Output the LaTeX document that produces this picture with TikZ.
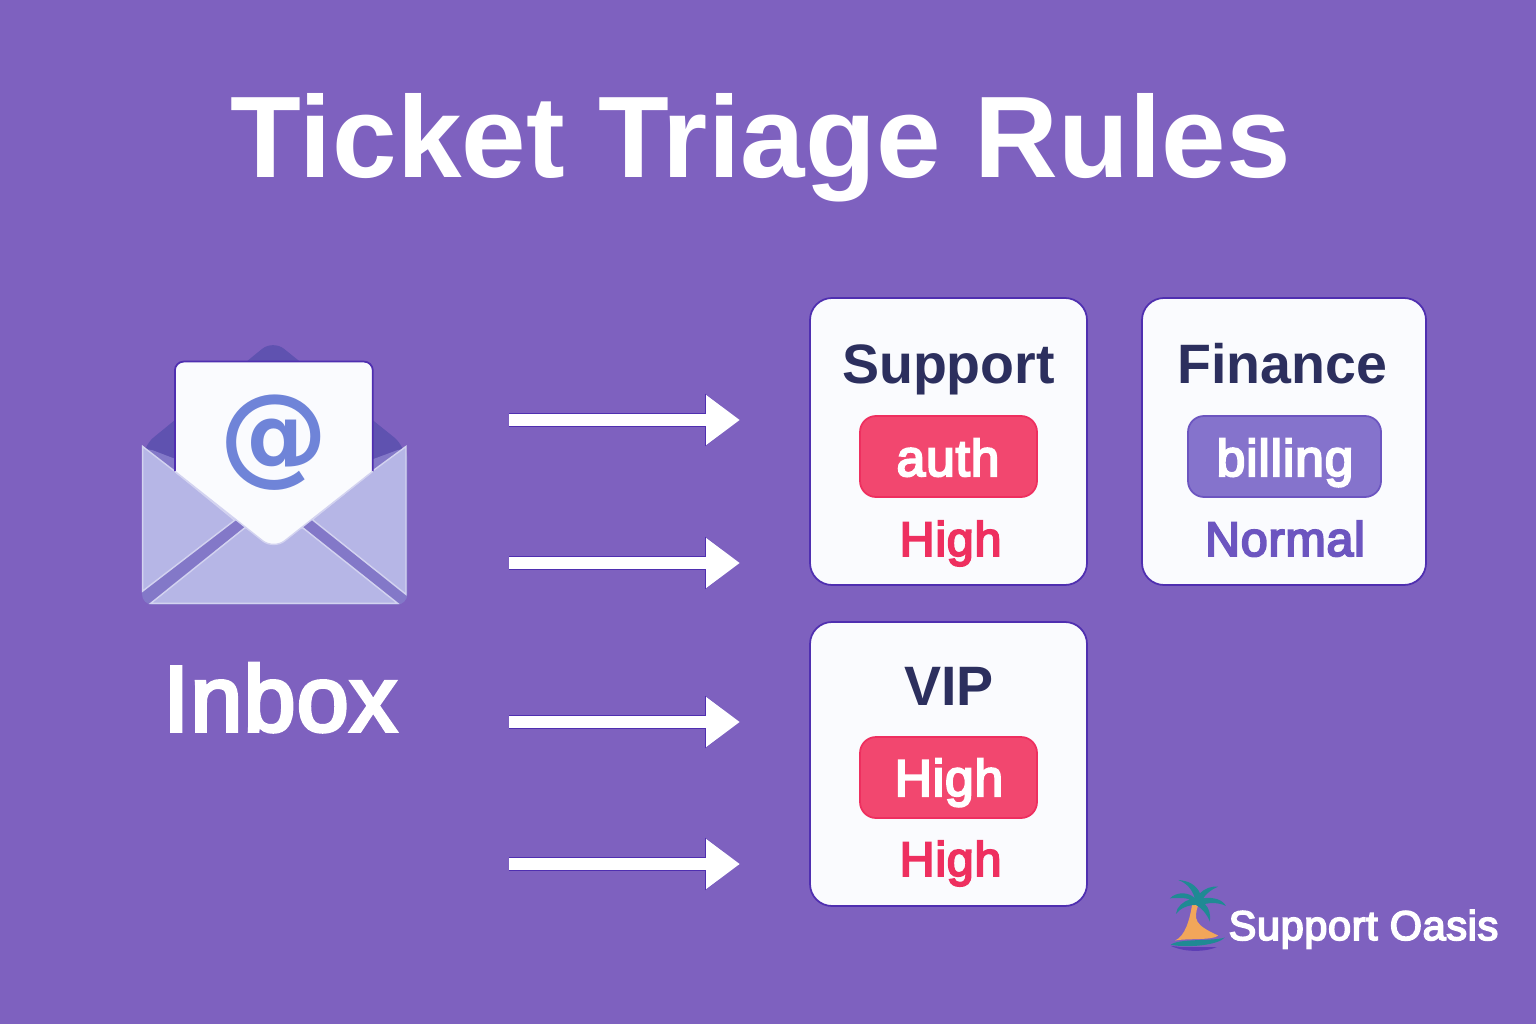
\documentclass[tikz,border=0pt]{standalone}
\usepackage{fontspec}
\usetikzlibrary{arrows.meta}
\setmainfont{Liberation Sans}
\newfontfamily\mediumfont[FakeBold=4,LetterSpace=1.5]{Liberation Sans}
\newfontfamily\titlefont[LetterSpace=0.3]{Liberation Sans Bold}
\newfontfamily\atfont{DejaVu Sans}
\definecolor{bgpurple}{HTML}{7E61BF}
\definecolor{edgepurple}{HTML}{4F2FB0}
\definecolor{navytext}{HTML}{2C2F5E}
\definecolor{cardwhite}{HTML}{FAFBFE}
\definecolor{hotred}{HTML}{F2476F}
\definecolor{hottext}{HTML}{EE2F5F}
\definecolor{billfill}{HTML}{8573CC}
\definecolor{normaltext}{HTML}{6C55C0}
\definecolor{envlight}{HTML}{B6B6E6}
\definecolor{envband}{HTML}{8378C8}
\definecolor{envdark}{HTML}{5F52B0}
\definecolor{atblue}{HTML}{6F84D8}
\definecolor{palmteal}{HTML}{1F8A94}
\definecolor{sandorange}{HTML}{F2A65A}
\tikzstyle{card}=[rectangle,rounded corners=22pt*0.285,draw=edgepurple,line width=0.5pt,fill=cardwhite,inner sep=0pt]
\tikzstyle{pill}=[rectangle,rounded corners=16pt*0.285,line width=0.5pt,inner sep=0pt]
\tikzstyle{heading}=[anchor=base,text=navytext,font=\bfseries\fontsize{15.8}{18}\selectfont]
\tikzstyle{pilltext}=[anchor=base,text=white,font=\mediumfont\fontsize{14.7}{18}\selectfont]
\tikzstyle{level}=[anchor=base,font=\mediumfont\fontsize{13.8}{18}\selectfont]
\tikzstyle{flowedge}=[line width=0.12cm,white,-{Triangle[length=0.34cm,width=0.48cm]},preaction={draw=edgepurple,line width=0.135cm,-{Triangle[length=0.35cm,width=0.5cm]}}]
\begin{document}
\begin{tikzpicture}
    \useasboundingbox (0,0) rectangle (15.36,10.24);
    \fill[bgpurple] (0,0) rectangle (15.36,10.24);

    \node[anchor=base,text=white,font=\titlefont\fontsize{33}{38}\selectfont] (title) at (7.61,8.46) {Ticket Triage Rules};

    % Envelope, numbers are in a 3x grid
    \begin{scope}[shift={(1.2,6.94)},x=0.003333cm,y=-0.003333cm]
        \fill[envdark,rounded corners=4pt] (68,350) -- (460,30) -- (858,350) -- (858,500) -- (68,500) -- cycle;
        \fill[envband,rounded corners=3pt] (68,350) -- (460,500) -- (864,350) -- (864,826) -- (66,826) -- cycle;
        \fill[envlight,draw=white!40!envlight,line width=0.4pt] (68,350) -- (68,785) -- (345,572) -- (165,425) -- cycle;
        \fill[envlight,draw=white!40!envlight,line width=0.4pt] (860,350) -- (860,795) -- (578,570) -- (758,425) -- cycle;
        \fill[envlight,draw=white!40!envlight,line width=0.4pt] (92,822) -- (375,595) -- (550,595) -- (835,822) -- cycle;
        \fill[cardwhite] (165,425) [rounded corners=2.5pt] -- (165,95) -- (760,95) [sharp corners] -- (760,425) [rounded corners=4pt] -- (462,660) [sharp corners] -- cycle;
        \draw[edgepurple,line width=0.5pt,rounded corners=2.5pt] (165,425) -- (165,95) -- (760,95) -- (760,425);
        \draw[white!40!envlight,line width=0.4pt,rounded corners=4pt] (165,425) -- (462,660) -- (760,425);
        \node[text=atblue,font=\atfont\fontsize{31}{34}\selectfont\bfseries] (at) at (462,340) {@};
    \end{scope}
    \node[anchor=base,text=white,font=\mediumfont\fontsize{26.5}{30}\selectfont] (inbox) at (2.8,2.93) {Inbox};

    % Rule cards
    \foreach \pos/ \name/ \cardw/ \cardh in {{(9.485,5.825)/support/2.77/2.87},{(12.84,5.825)/finance/2.84/2.87},{(9.485,2.6)/vip/2.77/2.84}}
        \node[card,minimum width=\cardw cm,minimum height=\cardh cm] (\name) at \pos {};

    \node[pill,fill=hotred,draw=hottext,minimum width=1.77cm,minimum height=0.81cm] (authpill) at (9.485,5.675) {};
    \node[pill,fill=billfill,draw=normaltext,minimum width=1.93cm,minimum height=0.81cm] (billpill) at (12.845,5.675) {};
    \node[pill,fill=hotred,draw=hottext,minimum width=1.77cm,minimum height=0.81cm] (vippill) at (9.485,2.465) {};

    \node[heading] (supporttext) at (9.485,6.41) {Support};
    \node[heading] (financetext) at (12.82,6.41) {Finance};
    \node[heading] (viptext) at (9.49,3.19) {VIP};
    \node[pilltext] (authtext) at (9.48,5.48) {auth};
    \node[pilltext] (billtext) at (12.85,5.48) {billing};
    \node[pilltext] (highpilltext) at (9.49,2.28) {High};
    \node[level,text=hottext] (authlevel) at (9.505,4.68) {High};
    \node[level,text=normaltext] (billlevel) at (12.85,4.68) {Normal};
    \node[level,text=hottext] (viplevel) at (9.505,1.48) {High};

    % Arrows from the inbox side to the cards
    \foreach \name/ \y in {a/6.04,b/4.61,c/3.02,d/1.6} {
        \coordinate (from\name) at (5.09,\y);
        \coordinate (to\name) at (7.4,\y);
        \draw[flowedge] (from\name) -- (to\name);
    }

    % Palm logo
    \begin{scope}[shift={(11.5,1.54)},x=0.003333cm,y=-0.003333cm]
        \fill[edgepurple!70!bgpurple] (62,228) .. controls (110,250) and (170,245) .. (200,232) -- (100,232) -- cycle;
        \fill[palmteal] (62,225) .. controls (85,205) and (190,215) .. (225,203) .. controls (205,225) and (120,235) .. (62,225) -- cycle;
        \fill[sandorange] (75,212) .. controls (105,200) and (120,150) .. (127,100) -- (145,105) .. controls (130,150) and (135,165) .. (205,197) .. controls (190,212) and (110,205) .. (75,212) -- cycle;
        \fill[palmteal] (135,85) .. controls (125,55) and (110,40) .. (85,30) .. controls (115,32) and (140,45) .. (150,70) .. controls (165,55) and (185,48) .. (205,50) .. controls (185,58) and (170,70) .. (160,85) .. controls (190,80) and (220,90) .. (228,108) .. controls (205,97) and (185,98) .. (165,102) .. controls (178,115) and (183,135) .. (180,155) .. controls (170,130) and (155,115) .. (138,105) .. controls (115,105) and (90,115) .. (78,132) .. controls (80,110) and (100,95) .. (120,88) .. controls (100,82) and (80,85) .. (60,85) .. controls (80,65) and (115,65) .. (135,85) -- cycle;
    \end{scope}
    \node[anchor=base,text=white,font=\mediumfont\fontsize{11.8}{15}\selectfont] (brand) at (13.635,0.84) {Support Oasis};
\end{tikzpicture}
\end{document}
